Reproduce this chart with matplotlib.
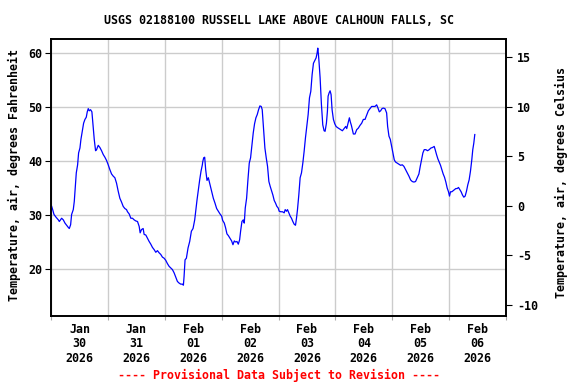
import matplotlib
matplotlib.use("Agg")
import matplotlib.pyplot as plt
import matplotlib.dates as mdates
import pandas as pd
import numpy as np

title = "USGS 02188100 RUSSELL LAKE ABOVE CALHOUN FALLS, SC"
left_label = "Temperature, air, degrees Fahrenheit"
right_label = "Temperature, air, degrees Celsius"
footer = "---- Provisional Data Subject to Revision ----"
start = "2026-01-30 00:00"
end = "2026-02-07 00:00"

f_ticks = [20, 30, 40, 50, 60]
c_ticks = [-10, -5, 0, 5, 10, 15]

hours = [0.28, 0.70, 1.26, 2.11, 3.09, 3.51, 4.49, 5.19, 5.90, 6.60, 7.30, 7.72, 8.28, 8.70,
         9.40, 9.82, 10.25, 10.67, 11.23, 11.65, 12.21, 12.63, 13.19, 13.76, 14.32, 14.88,
         15.30, 15.72, 16.14, 16.70, 17.26, 17.82, 18.25, 18.81, 19.23, 19.93, 20.63, 21.34,
         22.04, 22.74, 23.44, 24.14, 24.84, 25.55, 26.25, 26.95, 27.65, 28.36, 29.06, 29.76,
         30.46, 31.16, 31.87, 32.28, 32.99, 33.69, 34.39, 35.09, 35.79, 36.50, 37.20, 37.62,
         38.18, 38.88, 39.30, 40.00, 40.71, 41.41, 42.11, 42.81, 43.51, 44.22, 44.92, 45.62,
         46.32, 47.02, 47.73, 48.43, 49.13, 49.83, 50.53, 51.23, 51.94, 52.64, 53.34, 54.04,
         54.74, 55.45, 55.87, 56.15, 56.57, 57.13, 57.83, 58.53, 59.24, 59.94, 60.64, 61.06,
         61.62, 62.18, 62.74, 63.30, 63.87, 64.01, 64.43, 64.85, 65.27, 65.83, 66.39, 67.10,
         67.80, 68.50, 69.20, 69.90, 70.61, 71.31, 72.01, 72.43, 73.13, 73.69, 74.25, 74.82,
         75.52, 76.22, 76.78, 77.34, 77.90, 78.47, 79.03, 79.59, 80.01, 80.57, 81.13, 81.55,
         81.97, 82.54, 83.10, 83.66, 84.22, 84.78, 85.34, 85.90, 86.47, 87.03, 87.59, 88.15,
         88.71, 89.13, 89.69, 90.26, 90.82, 91.38, 91.94, 92.50, 93.06, 93.63, 94.19, 94.75,
         95.31, 95.87, 96.29, 96.99, 97.70, 98.40, 98.82, 99.38, 99.80, 100.36, 100.92, 101.48,
         102.05, 102.61, 103.17, 103.59, 104.01, 104.57, 105.13, 105.70, 106.26, 106.82, 107.38,
         107.94, 108.51, 109.07, 109.63, 110.19, 110.75, 111.31, 111.87, 112.30, 112.58, 112.86,
         113.14, 113.56, 114.12, 114.68, 115.24, 115.66, 116.22, 116.64, 116.93, 117.35, 117.77,
         118.19, 118.61, 119.17, 119.73, 120.30, 120.86, 121.56, 122.26, 122.96, 123.67, 124.37,
         124.79, 125.35, 125.91, 126.33, 126.75, 127.17, 127.59, 128.29, 129.00, 129.70, 130.40,
         131.10, 131.80, 132.51, 133.21, 133.91, 134.61, 135.31, 136.02, 136.72, 137.42, 137.98,
         138.54, 139.10, 139.67, 140.23, 140.93, 141.63, 142.05, 142.61, 143.17, 143.74, 144.30,
         144.86, 145.42, 146.12, 146.83, 147.53, 148.23, 148.93, 149.63, 150.33, 151.04, 151.74,
         152.44, 153.14, 153.84, 154.55, 155.25, 155.81, 156.37, 156.93, 157.49, 158.19, 158.90,
         159.60, 160.30, 161.00, 161.70, 162.12, 162.68, 163.25, 163.81, 164.37, 164.93, 165.49,
         166.05, 166.62, 167.18, 167.74, 168.16, 168.58, 169.14, 169.70, 170.27, 170.83, 171.39,
         171.95, 172.51, 173.07, 173.64, 174.20, 174.76, 175.32, 175.88, 176.44, 177.00, 177.56,
         177.98, 178.41, 178.83]

temp_f = [31.6, 31.0, 30.1, 29.6, 29.1, 28.8, 29.4, 29.1, 28.5, 28.1, 27.7, 27.5, 28.2, 30.1,
          31.0, 32.5, 35.3, 37.8, 39.3, 41.5, 42.4, 44.0, 45.5, 47.0, 47.7, 48.1,
          49.1, 49.7, 49.3, 49.5, 49.1, 46.1, 44.0, 41.9, 42.1, 42.9, 42.5, 41.9,
          41.2, 40.7, 40.1, 39.3, 38.4, 37.6, 37.2, 36.9, 35.9, 34.4, 33.1, 32.4,
          31.6, 31.2, 31.0, 30.6, 30.2, 29.4, 29.4, 29.1, 28.9, 28.8, 27.9, 26.7,
          27.3, 27.5, 26.4, 26.3, 25.7, 25.1, 24.6, 24.0, 23.6, 23.1, 23.4, 23.0,
          22.7, 22.2, 22.0, 21.6, 21.0, 20.5, 20.2, 19.9, 19.3, 18.5, 17.7, 17.4,
          17.2, 17.2, 17.0, 18.6, 21.7, 22.0, 23.9, 25.1, 27.0, 27.5, 29.1, 30.7,
          32.8, 34.7, 36.5, 38.1, 39.3, 39.8, 40.6, 40.7, 38.4, 36.4, 36.9, 35.6,
          34.4, 33.1, 32.2, 31.2, 30.7, 30.2, 29.8, 29.0, 28.5, 27.6, 26.5, 26.2,
          25.7, 25.2, 24.5, 25.2, 25.0, 25.1, 24.6, 25.4, 27.0, 28.8, 29.1, 28.5,
          31.3, 33.1, 36.5, 39.6, 40.6, 43.0, 45.2, 46.9, 48.0, 48.6, 49.5, 50.2,
          50.1, 49.5, 46.1, 42.4, 40.6, 39.0, 36.2, 35.3, 34.5, 33.7, 32.7, 32.2,
          31.6, 31.3, 30.7, 30.6, 30.6, 30.4, 31.0, 30.7, 31.0, 30.4, 29.8, 29.4,
          28.8, 28.3, 28.1, 29.4, 31.0, 33.7, 36.9, 37.8, 39.6, 41.8, 44.3,
          46.4, 48.6, 51.7, 52.9, 56.0, 58.1, 58.6, 59.1, 60.0, 60.9, 59.7,
          58.1, 55.4, 50.4, 46.7, 45.6, 45.5, 47.0, 49.2, 52.0, 52.6, 53.0,
          52.3, 49.5, 47.7, 46.9, 46.4, 46.2, 46.0, 45.8, 45.6, 46.0, 46.4,
          46.0, 47.0, 48.0, 47.2, 46.6, 45.8, 45.0, 45.0, 45.8, 46.1, 46.6,
          47.0, 47.7, 47.7, 48.5, 49.3, 49.7, 50.1, 50.1, 50.1, 50.4, 49.8,
          49.1, 49.3, 49.7, 49.8, 49.7, 48.9, 46.4, 44.6, 44.0, 42.7, 41.5,
          40.2, 39.8, 39.6, 39.4, 39.2, 39.3, 39.0, 38.4, 37.8, 37.2, 36.5,
          36.2, 36.1, 36.2, 36.9, 37.6, 39.0, 40.2, 41.5, 42.1, 42.1, 41.9,
          42.1, 42.4, 42.5, 42.7, 42.1, 41.2, 40.4, 39.8, 39.2, 38.4, 37.6,
          37.0, 36.1, 35.0, 34.3, 33.5, 34.3, 34.3, 34.5, 34.7, 34.9, 34.9,
          35.1, 34.7, 34.3, 33.7, 33.3, 33.5, 34.4, 35.6, 36.5, 38.1, 40.2,
          42.1, 43.3, 44.9]

times = pd.Timestamp(start) + pd.to_timedelta(hours, unit="h")

plt.rcParams["font.family"] = "DejaVu Sans Mono"
plt.rcParams["font.weight"] = "bold"
fs = 8.4

fig = plt.figure(figsize=(5.76, 3.84), dpi=100)
ax = fig.add_axes([51/576, 1 - 316/384, (506 - 51)/576, (316 - 39)/384])
ax.plot(times, temp_f, color="#0000ff", lw=0.9)

ax.set_xlim(pd.Timestamp(start), pd.Timestamp(end))
ax.set_ylim(11.3, 62.59)
ax.set_yticks(f_ticks)
ax.set_yticklabels([str(t) for t in f_ticks], fontsize=fs, fontweight="bold")

ax.xaxis.set_major_locator(mdates.DayLocator())
ax.xaxis.set_major_formatter(plt.NullFormatter())
ax.xaxis.set_minor_locator(mdates.HourLocator(byhour=[12]))
ax.xaxis.set_minor_formatter(mdates.DateFormatter("%b\n%d\n%Y"))
ax.tick_params(axis="x", which="major", length=3, direction="out", color="#aaaaaa")
ax.tick_params(axis="x", which="minor", length=0, pad=5, labelsize=fs)
for lab in ax.get_xticklabels(minor=True):
    lab.set_fontweight("bold")
    lab.set_linespacing(1.15)
ax.tick_params(axis="y", length=4, direction="out", labelsize=fs, pad=2)

ax.grid(True, which="major", color="#cccccc", lw=1.0)
ax.set_axisbelow(True)
for s in ax.spines.values():
    s.set_linewidth(1.2)
    s.set_color("black")

ax2 = ax.twinx()
ax2.set_ylim(-11.14, 16.82)
ax2.set_yticks(c_ticks)
ax2.set_yticklabels([str(t) for t in c_ticks], fontsize=fs, fontweight="bold")
ax2.tick_params(axis="y", length=4, direction="out", pad=4)
for s in ax2.spines.values():
    s.set_linewidth(1.2)

fig.text(278.5/576, 1 - 20/384, title, ha="center", va="center", fontsize=fs, fontweight="bold")
fig.text(14/576, 1 - 175/384, left_label, rotation=90, ha="center", va="center",
         fontsize=fs, fontweight="bold")
fig.text(561/576, 1 - 183/384, right_label, rotation=90, ha="center", va="center",
         fontsize=fs, fontweight="bold")
fig.text(278.5/576, 1 - 375/384, footer, ha="center", va="center", fontsize=fs,
         fontweight="bold", color="red")

fig.savefig("out.png", dpi=100, facecolor="white")
